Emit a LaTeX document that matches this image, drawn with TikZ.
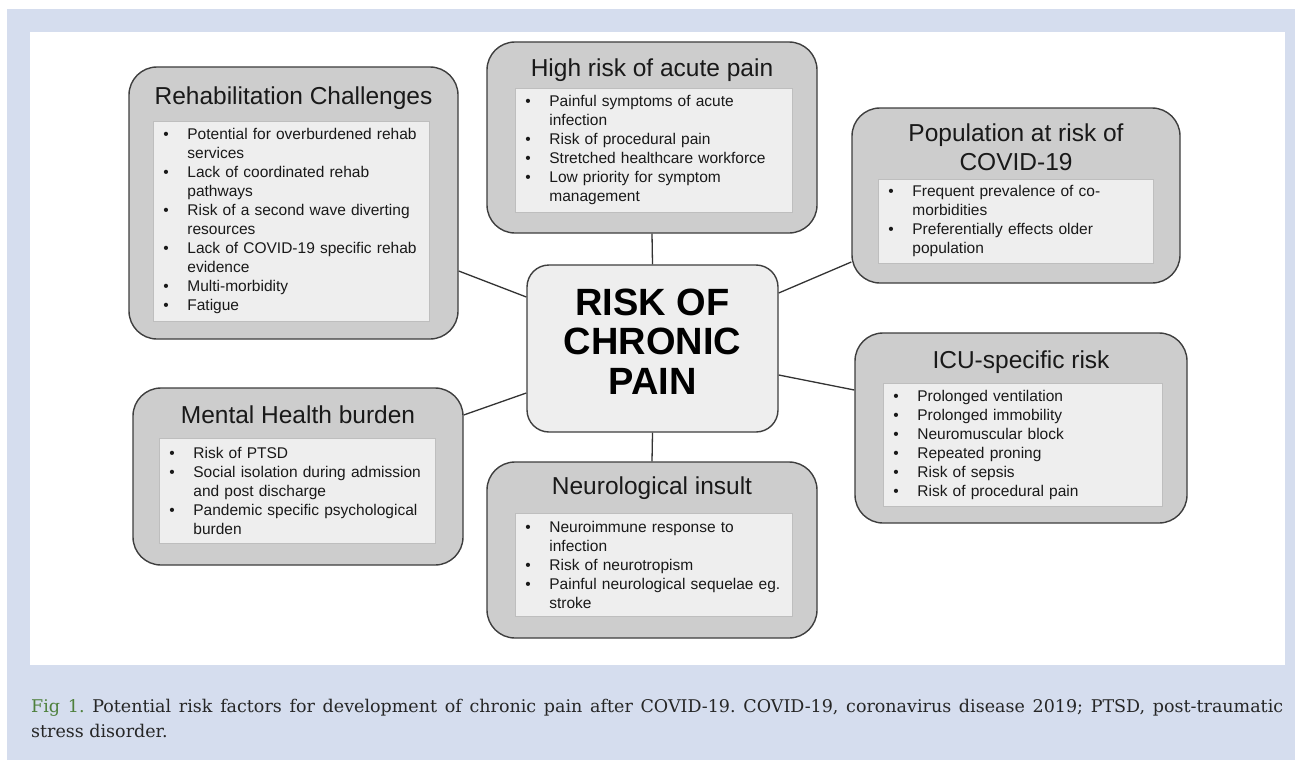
\documentclass[tikz,border=0pt]{standalone}
\usepackage{fontspec}
\setmainfont{Liberation Sans}
\newfontfamily\capfont{DejaVu Serif}
\usetikzlibrary{positioning}

\definecolor{panelbg}{RGB}{213,221,238}
\definecolor{boxgray}{RGB}{205,205,205}
\definecolor{boxedge}{RGB}{62,62,62}
\definecolor{listfill}{RGB}{238,238,238}
\definecolor{listedge}{RGB}{190,190,190}
\definecolor{figgreen}{RGB}{78,128,60}
\newcommand{\itm}[1]{\noindent\hangindent=24pt\hangafter=1\makebox[24pt][l]{\textbullet}#1\par}

\begin{document}
\begin{tikzpicture}[x=1pt,y=-1pt,
	outerbox/.style={draw=boxedge,line width=1.4pt,fill=boxgray,rounded corners=28pt,inner sep=0pt},
	listbox/.style={draw=listedge,line width=0.8pt,fill=listfill,anchor=north west,inner xsep=10pt,inner ysep=0pt,align=left,text=black!90,font=\fontsize{15.5}{19}\selectfont},
	ttl/.style={align=center,text=black!90,font=\fontsize{24.5}{29}\selectfont},
	hub/.style={draw=boxedge,line width=1.4pt,fill=listfill,rounded corners=22pt,minimum width=251pt,minimum height=167pt,align=center,font=\bfseries\fontsize{38}{39.5}\selectfont},
	link/.style={draw=black!80,line width=1.3pt}]
	\useasboundingbox (0,0) rectangle (1295,760);
	\fill[white] (0,0) rectangle (1295,760);
	\fill[panelbg] (7,9) rectangle (1295,760);
	\fill[white] (30,32) rectangle (1285,665);

	% centre
	\node [hub] at (652.5,348.5) (hub) {RISK OF\\CHRONIC\\PAIN\rule[-14pt]{0pt}{14pt}};

	% rehab
	\node [outerbox,minimum width=329pt,minimum height=272pt] at (293.5,203) (rehab) {};
	\node [ttl] at (293.5,98) (rehab_t) {Rehabilitation Challenges};
	\node [listbox,text width=256pt,minimum height=200pt] at (153,121) (rehab_l) {%
		\itm{Potential for overburdened rehab\newline services}
		\itm{Lack of coordinated rehab\newline pathways}
		\itm{Risk of a second wave diverting\newline resources}
		\itm{Lack of COVID-19 specific rehab\newline evidence}
		\itm{Multi-morbidity}
		\itm{Fatigue}};

	% acute pain
	\node [outerbox,minimum width=330pt,minimum height=191pt] at (652,137.5) (acute) {};
	\node [ttl] at (652,70) (acute_t) {High risk of acute pain};
	\node [listbox,text width=257pt,minimum height=124pt] at (515,88) (acute_l) {%
		\itm{Painful symptoms of acute\newline infection}
		\itm{Risk of procedural pain}
		\itm{Stretched healthcare workforce}
		\itm{Low priority for symptom\newline management}};

	% population
	\node [outerbox,minimum width=328pt,minimum height=175pt] at (1016,195.5) (popn) {};
	\node [ttl] at (1016,147.5) (popn_t) {Population at risk of\\COVID-19};
	\node [listbox,text width=255pt,minimum height=84pt] at (878,179) (popn_l) {%
		\itm{Frequent prevalence of co-\newline morbidities}
		\itm{Preferentially effects older\newline population}};

	% mental health
	\node [outerbox,minimum width=330pt,minimum height=177pt] at (298,476.5) (mental) {};
	\node [ttl] at (298,415) (mental_t) {Mental Health burden};
	\node [listbox,text width=256pt,minimum height=105pt] at (159,438) (mental_l) {%
		\itm{Risk of PTSD}
		\itm{Social isolation during admission\newline and post discharge}
		\itm{Pandemic specific psychological\newline burden}};

	% neuro
	\node [outerbox,minimum width=330pt,minimum height=176pt] at (652,550) (neuro) {};
	\node [ttl] at (652,488) (neuro_t) {Neurological insult};
	\node [listbox,text width=257pt,minimum height=103pt] at (515,513) (neuro_l) {%
		\itm{Neuroimmune response to\newline infection}
		\itm{Risk of neurotropism}
		\itm{Painful neurological sequelae eg.\newline stroke}};

	% icu
	\node [outerbox,minimum width=332pt,minimum height=190pt] at (1021,428) (icu) {};
	\node [ttl] at (1021,362) (icu_t) {ICU-specific risk};
	\node [listbox,text width=259pt,minimum height=123pt] at (883,383) (icu_l) {%
		\itm{Prolonged ventilation}
		\itm{Prolonged immobility}
		\itm{Neuromuscular block}
		\itm{Repeated proning}
		\itm{Risk of sepsis}
		\itm{Risk of procedural pain}};

	\draw[link] (hub.north) -- (acute.south);
	\draw[link] (hub.south) -- (neuro.north);
	\draw[link] ([yshift=51.5pt]hub.west) -- ([yshift=-68pt]rehab.east);
	\draw[link] ([yshift=-44.5pt]hub.west) -- ([yshift=61.5pt]mental.east);
	\draw[link] ([yshift=55.5pt]hub.east) -- ([yshift=-66.5pt]popn.west);
	\draw[link] ([yshift=-26.5pt]hub.east) -- ([yshift=38pt]icu.west);

	% caption
	\node [anchor=north west,text width=1252pt,inner sep=0pt,align=justify,text=black!85,font=\capfont\frenchspacing\fontsize{17.5}{25}\selectfont] at (31,699) (caption) {\textcolor{figgreen}{Fig 1.} Potential risk factors for development of chronic pain after COVID-19. COVID-19, coronavirus disease 2019; PTSD, post-traumatic\linebreak stress disorder.};
\end{tikzpicture}
\end{document}
